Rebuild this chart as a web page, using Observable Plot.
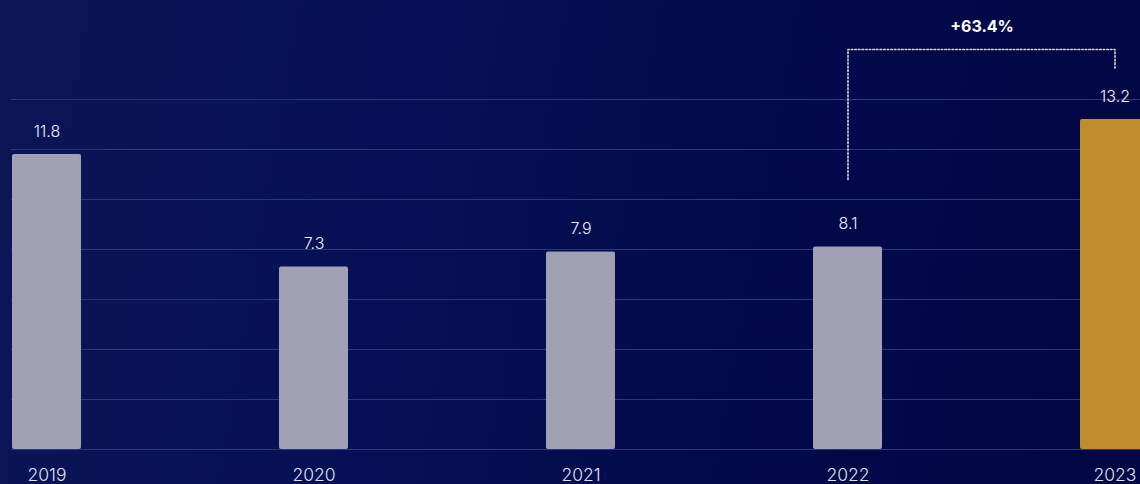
<!DOCTYPE html>
<html>
<head>
<meta charset="utf-8">
<script src="https://cdn.jsdelivr.net/npm/d3@7"></script>
<script src="https://cdn.jsdelivr.net/npm/@observablehq/plot@0.6"></script>
<style>
  html, body { margin: 0; padding: 0; width: 1140px; height: 484px; overflow: hidden; }
  body { background: linear-gradient(100deg, #0b1556 0%, #071056 35%, #030a4c 65%, #010742 100%); font-family: Inter, "Open Sans", sans-serif; }
  #chart svg { overflow: hidden; display: block; }
</style>
</head>
<body>
<div id="chart"></div>
<script>
const years = ["2019", "2020", "2021", "2022", "2023"];
const values = [11.8, 7.3, 7.9, 8.1, 13.2];
const highlight = ["2023"];
const gridTicks = [0, 2, 4, 6, 8, 10, 12, 14];
const changeLabel = "+63.4%";
const changeFrom = "2022";
const changeTo = "2023";
const bracketLevel = 16;
const bracketFromStart = 10.8;
const bracketToStart = 15.2;
const changeLabelLevel = 16.9;

const data = years.map((y, i) => ({year: y, value: values[i], hi: highlight.includes(y)}));
const bracket = [
  {year: changeFrom, v: bracketFromStart},
  {year: changeFrom, v: bracketLevel},
  {year: changeTo, v: bracketLevel},
  {year: changeTo, v: bracketToStart}
];
const midLabel = [{year: changeFrom, value: changeLabelLevel, text: changeLabel}];

const font = "Inter, 'Open Sans', sans-serif";

const chart = Plot.plot({
  width: 1140,
  height: 484,
  marginTop: 99,
  marginBottom: 35,
  marginLeft: 11,
  marginRight: 0,
  style: {background: "transparent", fontFamily: font, overflow: "hidden"},
  x: {type: "band", domain: years, range: [11, 1150], paddingInner: 0.742, paddingOuter: 0, align: 0.5, axis: null},
  y: {domain: [0, 14], axis: null},
  marks: [
    Plot.ruleY(gridTicks, {stroke: "#2d3878", strokeWidth: 1}),
    Plot.barY(data, {x: "year", y: "value", fill: d => d.hi ? "#c08d2e" : "#a0a2b4", rx: 2}),
    Plot.text(data, {x: "year", y: "value", text: d => d.value.toFixed(1), dy: -23, fill: "#eceef6", fontSize: 16, fontWeight: 300}),
    Plot.text(data, {x: "year", y: 0, text: "year", dy: 26, fill: "#dfe1ee", fontSize: 17.5, fontWeight: 300}),
    Plot.line(bracket, {x: "year", y: "v", stroke: "#d4d6e4", strokeWidth: 1.6, strokeDasharray: "1.6,2", curve: "step-after"}),
    Plot.text(midLabel, {x: "year", y: "value", text: "text", dx: 134, fill: "#ffffff", fontSize: 16, fontWeight: 700})
  ]
});
document.getElementById("chart").appendChild(chart);
</script>
</body>
</html>
